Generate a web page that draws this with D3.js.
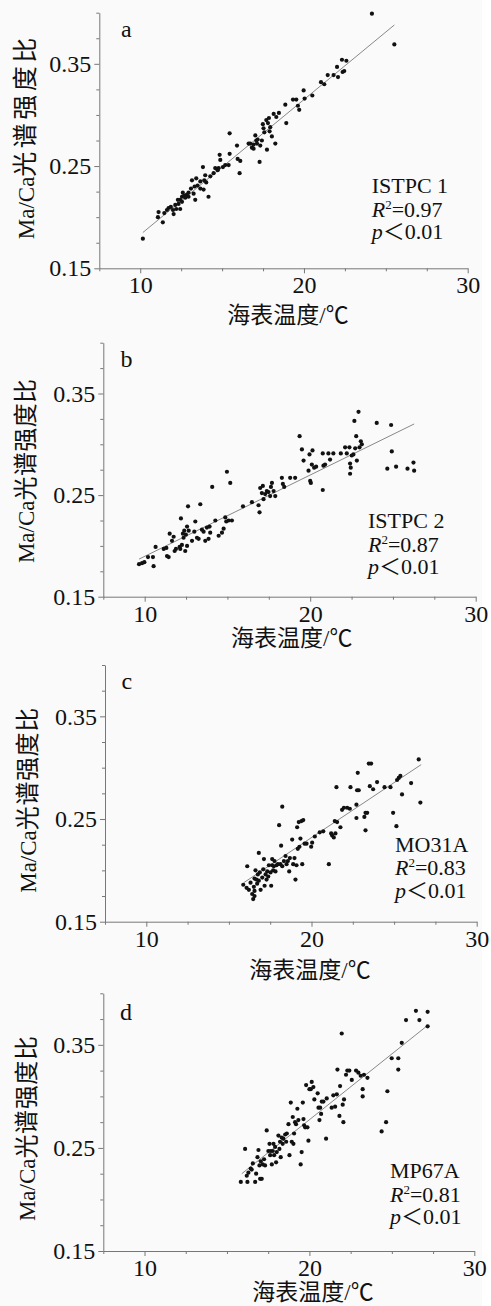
<!DOCTYPE html>
<html>
<head>
<meta charset="utf-8">
<script src="https://cdn.jsdelivr.net/npm/d3@7"></script>
<style>
body { margin: 0; background: #fff; }
svg { display: block; }
</style>
</head>
<body>
<svg id="chart" width="491" height="1306"></svg>
<script>
// tick values + labels
const xTickValues = [7.5, 10, 12.5, 15, 17.5, 20, 22.5, 25, 27.5, 30]
const xTickLabels = [10, 20, 30]
const yTickValues = [0.15, 0.175, 0.2, 0.225, 0.25, 0.275, 0.3, 0.325, 0.35, 0.375, 0.4]
const yTickLabels = [0.15, 0.25, 0.35]

const panelLetters = ["a", "b", "c", "d"]
const siteNames = ["ISTPC 1", "ISTPC 2", "MO31A", "MP67A"]
const r2Values = ["0.97", "0.87", "0.83", "0.81"]
const xTitle = "海表温度/℃"
const yTitleLatin = "Ma/Ca"
const yTitleCjk = "光谱强度比"

// points [SST, Ma/Ca]
const ptsA = [[10.16,0.179],[11.12,0.205],[11.08,0.200],[11.38,0.195],[11.47,0.204],[11.73,0.209],[11.87,0.210],[12.04,0.203],[12.14,0.212],[12.2,0.208],[12.34,0.213],[12.44,0.208],[12.44,0.217],[12.55,0.220],[12.6,0.224],[12.69,0.221],[12.85,0.222],[12.95,0.224],[13.1,0.228],[13.16,0.236],[13.26,0.223],[13.36,0.217],[13.42,0.238],[13.5,0.231],[13.67,0.235],[13.83,0.249],[13.87,0.227],[13.97,0.241],[14.03,0.234],[14.17,0.220],[14.28,0.240],[14.48,0.243],[14.58,0.248],[14.73,0.246],[14.85,0.261],[14.89,0.256],[15.05,0.249],[15.19,0.251],[15.4,0.251],[15.46,0.262],[15.46,0.282],[15.91,0.270],[15.95,0.257],[16.11,0.255],[16.07,0.243],[16.62,0.272],[16.82,0.268],[16.92,0.271],[17.03,0.280],[17.09,0.275],[17.17,0.276],[17.29,0.254],[17.33,0.270],[17.43,0.275],[17.49,0.291],[17.58,0.283],[17.7,0.295],[17.74,0.266],[17.8,0.292],[17.86,0.297],[17.9,0.284],[17.94,0.288],[18.04,0.279],[18.15,0.301],[18.25,0.272],[18.31,0.298],[18.47,0.302],[18.86,0.310],[18.92,0.292],[19.33,0.315],[19.53,0.315],[19.63,0.309],[19.71,0.305],[19.98,0.324],[20.04,0.316],[20.51,0.319],[21.04,0.332],[21.24,0.330],[21.45,0.339],[21.81,0.339],[22.02,0.347],[22.08,0.337],[22.32,0.354],[22.36,0.342],[22.46,0.343],[22.59,0.353],[24.15,0.399],[25.52,0.369],[12.3,0.217],[12.55,0.215],[12.75,0.219],[12.0,0.207],[11.63,0.207],[13.32,0.230],[12.95,0.220],[13.67,0.228],[14.79,0.248],[13.91,0.236],[16.92,0.267],[17.13,0.272],[17.53,0.287],[16.72,0.272]]

const ptsB = [[9.66,0.182],[9.84,0.183],[9.98,0.184],[10.2,0.189],[10.5,0.189],[10.54,0.180],[10.66,0.199],[11.15,0.197],[11.31,0.198],[11.35,0.190],[11.45,0.189],[11.51,0.212],[11.65,0.205],[11.75,0.209],[11.81,0.195],[11.89,0.197],[12.11,0.199],[12.15,0.197],[12.19,0.227],[12.25,0.201],[12.31,0.212],[12.35,0.208],[12.39,0.215],[12.45,0.195],[12.49,0.211],[12.56,0.219],[12.56,0.200],[12.62,0.239],[12.66,0.215],[12.86,0.205],[13.0,0.214],[13.06,0.224],[13.16,0.208],[13.26,0.207],[13.36,0.241],[13.46,0.216],[13.56,0.214],[13.66,0.205],[13.76,0.218],[13.86,0.207],[13.92,0.219],[13.96,0.213],[14.08,0.258],[14.27,0.225],[14.47,0.210],[14.67,0.213],[14.77,0.217],[14.87,0.228],[14.93,0.224],[14.97,0.273],[15.07,0.225],[15.17,0.262],[15.27,0.225],[15.94,0.239],[16.48,0.243],[16.88,0.240],[16.94,0.233],[16.98,0.257],[17.08,0.252],[17.14,0.259],[17.18,0.246],[17.28,0.251],[17.38,0.254],[17.48,0.253],[17.58,0.249],[17.63,0.258],[17.69,0.262],[17.79,0.254],[17.89,0.249],[18.29,0.267],[18.35,0.261],[18.43,0.258],[18.79,0.267],[19.09,0.267],[19.36,0.308],[19.5,0.295],[19.6,0.284],[19.9,0.274],[19.96,0.290],[20.0,0.264],[20.04,0.262],[20.14,0.294],[20.1,0.280],[20.24,0.277],[20.36,0.278],[20.76,0.255],[20.76,0.291],[20.8,0.279],[20.9,0.280],[21.1,0.291],[21.2,0.285],[21.4,0.291],[21.85,0.291],[22.11,0.297],[22.21,0.291],[22.37,0.297],[22.41,0.281],[22.41,0.271],[22.45,0.277],[22.51,0.289],[22.61,0.290],[22.67,0.323],[22.72,0.296],[22.78,0.308],[22.82,0.284],[22.92,0.332],[22.98,0.297],[23.06,0.303],[23.12,0.300],[24.02,0.321],[24.66,0.276],[24.89,0.319],[24.93,0.293],[25.19,0.278],[25.88,0.276],[26.24,0.282],[26.28,0.274]]

const ptsC = [[15.87,0.186],[16.07,0.183],[16.11,0.204],[16.21,0.181],[16.31,0.188],[16.41,0.177],[16.47,0.172],[16.51,0.184],[16.55,0.192],[16.61,0.200],[16.67,0.191],[16.71,0.187],[16.75,0.196],[16.81,0.217],[16.87,0.198],[16.92,0.181],[17.02,0.193],[17.08,0.201],[17.12,0.211],[17.22,0.196],[17.28,0.191],[17.38,0.194],[17.42,0.205],[17.52,0.198],[17.56,0.185],[17.62,0.211],[17.68,0.200],[17.72,0.204],[17.76,0.209],[17.82,0.199],[17.88,0.205],[17.96,0.206],[18.04,0.244],[18.12,0.206],[18.16,0.224],[18.23,0.262],[18.33,0.209],[18.43,0.214],[18.49,0.206],[18.57,0.209],[18.65,0.199],[18.69,0.212],[18.83,0.230],[18.89,0.206],[18.97,0.212],[19.03,0.191],[19.09,0.205],[19.13,0.242],[19.17,0.221],[19.23,0.247],[19.27,0.223],[19.33,0.231],[19.39,0.248],[19.44,0.206],[19.5,0.249],[19.58,0.226],[19.7,0.226],[19.98,0.223],[20.04,0.227],[20.2,0.233],[20.5,0.237],[20.71,0.238],[21.05,0.206],[21.19,0.236],[21.25,0.234],[21.35,0.232],[21.41,0.248],[21.45,0.236],[21.51,0.281],[21.55,0.247],[21.75,0.242],[21.85,0.259],[21.96,0.261],[22.16,0.261],[22.32,0.260],[22.36,0.281],[22.72,0.251],[22.72,0.264],[22.76,0.278],[22.8,0.295],[22.86,0.278],[23.2,0.252],[23.27,0.256],[23.27,0.239],[23.37,0.256],[23.47,0.304],[23.53,0.282],[23.61,0.304],[23.73,0.279],[23.97,0.286],[24.42,0.281],[24.78,0.281],[24.94,0.256],[25.14,0.243],[25.18,0.288],[25.28,0.290],[25.38,0.292],[25.48,0.274],[26.03,0.285],[26.49,0.308],[26.59,0.266],[16.55,0.180],[17.16,0.185],[17.32,0.199],[17.62,0.205],[18.23,0.204],[16.55,0.175],[16.81,0.190]]

const ptsD = [[15.84,0.217],[16.1,0.249],[16.2,0.223],[16.24,0.217],[16.3,0.226],[16.44,0.230],[16.5,0.229],[16.57,0.235],[16.71,0.217],[16.77,0.225],[16.85,0.241],[16.91,0.248],[16.97,0.233],[17.01,0.220],[17.05,0.237],[17.11,0.220],[17.17,0.234],[17.25,0.239],[17.31,0.233],[17.41,0.267],[17.51,0.247],[17.58,0.254],[17.62,0.243],[17.66,0.247],[17.72,0.234],[17.78,0.247],[17.82,0.254],[17.86,0.243],[17.92,0.251],[17.98,0.236],[18.02,0.246],[18.12,0.262],[18.18,0.249],[18.22,0.256],[18.26,0.241],[18.32,0.260],[18.38,0.254],[18.42,0.259],[18.53,0.263],[18.59,0.256],[18.63,0.264],[18.73,0.273],[18.79,0.243],[18.87,0.294],[18.93,0.256],[18.99,0.280],[19.03,0.254],[19.07,0.264],[19.13,0.275],[19.19,0.273],[19.27,0.288],[19.33,0.277],[19.47,0.234],[19.53,0.246],[19.6,0.294],[19.64,0.278],[19.68,0.272],[19.74,0.270],[19.8,0.311],[19.88,0.270],[19.94,0.257],[20.0,0.307],[20.08,0.307],[20.14,0.314],[20.24,0.309],[20.3,0.297],[20.5,0.303],[20.55,0.289],[20.61,0.277],[20.65,0.289],[20.71,0.283],[20.75,0.295],[20.85,0.295],[21.01,0.259],[21.05,0.298],[21.35,0.289],[21.45,0.301],[21.56,0.290],[21.66,0.302],[21.7,0.326],[21.82,0.281],[21.86,0.310],[21.96,0.361],[22.02,0.292],[22.06,0.275],[22.1,0.297],[22.22,0.321],[22.3,0.325],[22.42,0.325],[22.57,0.316],[22.83,0.325],[22.97,0.323],[23.11,0.320],[23.23,0.307],[23.23,0.300],[23.31,0.321],[23.52,0.318],[24.38,0.266],[24.65,0.275],[24.73,0.305],[24.99,0.337],[25.39,0.337],[25.39,0.326],[25.6,0.352],[25.86,0.374],[26.46,0.383],[26.67,0.374],[27.17,0.382],[27.17,0.368]]

// fitted line ends
const fitA = [[10.16, 0.185], [25.52, 0.388]]
const fitB = [[9.66, 0.187], [26.28, 0.320]]
const fitC = [[15.9, 0.188], [26.64, 0.303]]
const fitD = [[15.9, 0.225], [27.18, 0.369]]

const allPts = [ptsA, ptsB, ptsC, ptsD]
const allFits = [fitA, fitB, fitC, fitD]

// where each panel sits on the page
const panels = [
    { left: 99.3, right: 467.7, top: 12.7, bottom: 268.3, letterX: 121, letterY: 37, noteX: 371.7, noteY: 193, yTitleX: 28.3, yTitleY: 136.7, cjkSize: 25, cjkGap: 3.5, xTitleX: 288, xTitleY: 322.5 },
    { left: 103.3, right: 475.7, top: 342.7, bottom: 596.7, letterX: 120.5, letterY: 366.7, noteX: 368, noteY: 528.3, yTitleX: 28.3, yTitleY: 470.8, cjkSize: 24, cjkGap: 0.4, xTitleX: 291.7, xTitleY: 646 },
    { left: 105, right: 476.7, top: 665, bottom: 921.7, letterX: 121.5, letterY: 689, noteX: 395, noteY: 851.7, yTitleX: 30, yTitleY: 800, cjkSize: 24, cjkGap: 0.6, xTitleX: 310, xTitleY: 977.5 },
    { left: 103.3, right: 474.3, top: 993.3, bottom: 1251, letterX: 120, letterY: 1020, noteX: 390, noteY: 1178.3, yTitleX: 29.3, yTitleY: 1128.3, cjkSize: 24, cjkGap: 0.6, xTitleX: 313, xTitleY: 1300 }
]

const serif = "'Liberation Serif', 'Times New Roman', serif"
const cjk = "'Noto Sans CJK SC', sans-serif"

var svg = d3.select("#chart")

svg.append("rect")
    .attr("width", 482).attr("height", 1306)
    .attr("fill", "#fafafa")

panels.forEach((p, i) => {
    var x = d3.scaleLinear().domain([7.5, 30]).range([p.left, p.right])
    var y = d3.scaleLinear().domain([0.15, 0.40]).range([p.bottom, p.top])

    var g = svg.append("g")

    // x axis
    var gx = g.append("g")
        .attr("transform", `translate(0,${p.bottom})`)
        .call(d3.axisBottom(x)
            .tickValues(xTickValues)
            .tickSize(5)
            .tickSizeOuter(0)
            .tickPadding(3)
            .tickFormat(d => xTickLabels.includes(d) ? d : ""))
    gx.selectAll(".tick").filter(d => !xTickLabels.includes(d))
        .select("line").attr("y2", 3)

    // y axis
    var gy = g.append("g")
        .attr("transform", `translate(${p.left},0)`)
        .call(d3.axisLeft(y)
            .tickValues(yTickValues)
            .tickSize(5)
            .tickSizeOuter(0)
            .tickPadding(3)
            .tickFormat(d => yTickLabels.some(v => Math.abs(v - d) < 1e-6) ? d3.format(".2f")(d) : ""))
    gy.selectAll(".tick").filter(d => !yTickLabels.some(v => Math.abs(v - d) < 1e-6))
        .select("line").attr("x2", -3)

    g.selectAll(".domain, .tick line").attr("stroke", "#777")
    g.selectAll(".tick text")
        .style("font-family", serif)
        .style("font-size", "24px")
        .attr("fill", "#111")

    // fit line
    g.append("line")
        .attr("x1", x(allFits[i][0][0])).attr("y1", y(allFits[i][0][1]))
        .attr("x2", x(allFits[i][1][0])).attr("y2", y(allFits[i][1][1]))
        .attr("stroke", "#888")
        .attr("stroke-width", 1)

    // points
    g.selectAll("circle")
        .data(allPts[i])
        .enter().append("circle")
        .attr("cx", d => x(d[0]))
        .attr("cy", d => y(d[1]))
        .attr("r", 2.1)
        .attr("fill", "#111")

    // panel letter
    g.append("text")
        .attr("x", p.letterX).attr("y", p.letterY)
        .style("font-family", serif).style("font-size", "24px")
        .attr("fill", "#111")
        .text(panelLetters[i])

    // stats text
    var note = g.append("g")
        .style("font-family", serif).style("font-size", "22px")
        .attr("fill", "#111")
    note.append("text")
        .attr("x", p.noteX).attr("y", p.noteY)
        .text(siteNames[i])
    var r2 = note.append("text")
        .attr("x", p.noteX).attr("y", p.noteY + 23.5)
    r2.append("tspan").style("font-style", "italic").text("R")
    r2.append("tspan").style("font-size", "13px").attr("dy", -8).text("2")
    r2.append("tspan").attr("dy", 8).text("=" + r2Values[i])
    var pv = note.append("text")
        .attr("x", p.noteX).attr("y", p.noteY + 46)
    pv.append("tspan").style("font-style", "italic").text("p")
    pv.append("tspan").style("font-family", cjk).text("＜")
    pv.append("tspan").text("0.01")

    // axis titles
    var xt = g.append("text")
        .attr("x", p.xTitleX).attr("y", p.xTitleY)
        .attr("text-anchor", "middle")
        .attr("fill", "#111")
        .style("font-size", "23px")
        .style("font-family", cjk)
    xt.append("tspan").text(xTitle.slice(0, 4))
    xt.append("tspan").style("font-family", serif).text("/")
    xt.append("tspan").text(xTitle.slice(5))

    var yt = g.append("text")
        .attr("transform", `translate(${p.yTitleX},${p.yTitleY}) rotate(-90)`)
        .attr("text-anchor", "middle")
        .attr("dy", "0.35em")
        .attr("fill", "#111")
    yt.append("tspan").style("font-family", serif).style("font-size", "23px").text(yTitleLatin)
    yt.append("tspan").style("font-family", cjk).style("font-size", p.cjkSize + "px")
        .style("letter-spacing", p.cjkGap + "px").text(yTitleCjk)
})
</script>
</body>
</html>
